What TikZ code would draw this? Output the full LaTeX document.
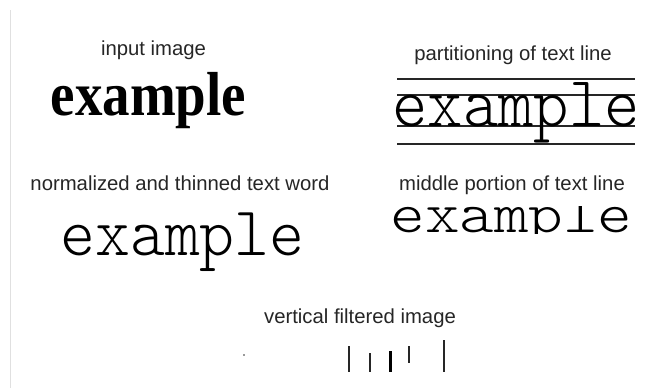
\documentclass[tikz,border=0pt]{standalone}
\usepackage{fontspec}
\setmainfont{Liberation Sans}
\newfontfamily\serifface{Liberation Serif}
\newfontfamily\thinmono{lmmonolt10-regular.otf}
\begin{document}
\begin{tikzpicture}[x=1pt,y=-1pt,
  lbl/.style={inner sep=0pt, anchor=base, text=black!85, font=\fontsize{20.3}{24}\selectfont},
  word/.style={inner sep=0pt, anchor=base},
  guide/.style={line width=1.3pt, draw=black!85},
  bar/.style={line width=1.6pt, draw=black!85}]
\useasboundingbox (0,0) rectangle (646,388);
\fill[white] (0,0) rectangle (646,388);
\draw[black!12, line width=0.8pt] (10.5,10) -- (10.5,388);

% input image
\node[lbl] (l1) at (153.5,56) {input image};
\node[word] (w1) at (148.5,115) {\scalebox{1}[1.13]{\serifface\bfseries\fontsize{55}{60}\selectfont example}};

% partitioning
\node[lbl] (l2) at (513,60) {partitioning of text line};
\draw[guide] (397,79) -- (635,79);
\draw[guide] (397,95) -- (635,95);
\draw[guide] (397,126) -- (635,126);
\draw[guide] (397,144) -- (635,144);
\node[word] (w2) at (516,126) {\scalebox{1}[1.07]{\thinmono\fontsize{67.3}{70}\selectfont example}};

% normalized
\node[lbl] (l3) at (180,190) {normalized and thinned text word};
\node[word] (w3) at (182.5,255) {\scalebox{1}[1.05]{\thinmono\fontsize{66.5}{70}\selectfont example}};

% middle portion
\node[lbl] (l4) at (512,190) {middle portion of text line};
\begin{scope}
\clip (380,206.5) rectangle (640,233.5);
\node[word] (w4) at (511.5,232) {\scalebox{1}[0.88]{\thinmono\fontsize{65.9}{70}\selectfont example}};
\end{scope}

% vertical filtered
\node[lbl] (l5) at (360,323) {vertical filtered image};
\fill[black!80] (244,355) circle (0.8);
\draw[bar] (349,346) -- (349,372);
\draw[bar] (370,353) -- (370,372);
\draw[bar, line width=3pt, draw=black] (390,351) -- (390,372);
\draw[bar] (409,346) -- (409,363);
\draw[bar] (444,340) -- (444,372);
\end{tikzpicture}
\end{document}
